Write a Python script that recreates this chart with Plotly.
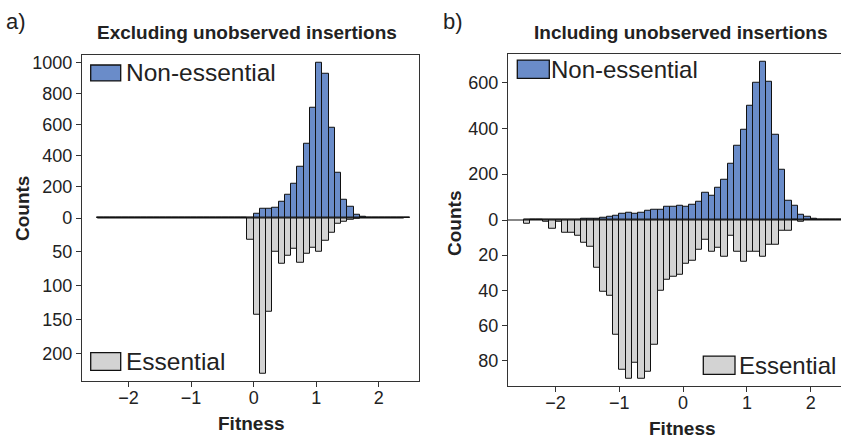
import plotly.graph_objects as go

# ---------------- data ----------------
bin_lower = [-2.5, -2.4, -2.3, -2.2, -2.1, -2.0, -1.9, -1.8, -1.7, -1.6,
             -1.5, -1.4, -1.3, -1.2, -1.1, -1.0, -0.9, -0.8, -0.7, -0.6,
             -0.5, -0.4, -0.3, -0.2, -0.1, 0.0, 0.1, 0.2, 0.3, 0.4,
             0.5, 0.6, 0.7, 0.8, 0.9, 1.0, 1.1, 1.2, 1.3, 1.4,
             1.5, 1.6, 1.7, 1.8, 1.9, 2.0, 2.1, 2.2, 2.3, 2.4]
bin_width = 0.1

# a) Excluding unobserved insertions
excl_nonessential = [0, 0, 0, 0, 0, 0, 0, 0, 0, 0,
                     0, 0, 0, 0, 0, 0, 0, 0, 0, 0,
                     0, 0, 0, 0, 4, 28, 58, 61, 68, 105,
                     147, 222, 328, 478, 710, 1000, 931, 580, 289, 120,
                     70, 18, 9, 4, 2, 1, 1, 0, 0, 0]
excl_essential = [0, 0, 0, 0, 0, 0, 0, 0, 0, 0,
                  0, 0, 0, 0, 0, 0, 0, 0, 0, 0,
                  0, 0, 0, 0, 32, 143, 229, 138, 49, 67,
                  55, 46, 66, 52, 44, 49, 33, 22, 8, 5,
                  3, 1, 0, 0, 0, 0, 0, 0, 0, 0]
excl_fitness_span = [-2.5, 2.4]

# b) Including unobserved insertions
incl_nonessential = [0, 0, 0, 0, 0, 0, 0, 1, 3, 4,
                     6, 7, 9, 13, 20, 28, 33, 26, 32, 41,
                     46, 43, 58, 59, 62, 58, 67, 81, 120, 107,
                     139, 175, 246, 322, 396, 499, 597, 691, 604, 370,
                     220, 86, 62, 22, 13, 4, 3, 2, 1, 1]
incl_essential = [2, 0, 0, 1, 5, 1, 7, 7, 9, 13,
                  15, 27, 41, 43, 65, 85, 90, 81, 90, 86,
                  71, 40, 34, 32, 31, 25, 23, 17, 11, 18,
                  16, 21, 9, 18, 24, 18, 18, 21, 14, 14,
                  6, 6, 0, 1, 0, 0, 0, 0, 0, 0]

x_ticks = [-2, -1, 0, 1, 2]
excl_top_ticks = [0, 200, 400, 600, 800, 1000]
excl_bottom_ticks = [50, 100, 150, 200]
incl_top_ticks = [0, 200, 400, 600]
incl_bottom_ticks = [20, 40, 60, 80]

# ---------------- style ----------------
W, H = 841, 438
BLUE = "#6a8cc9"
GRAY = "#d3d3d3"
EDGE = "#111111"
AX = "#333333"
TXT = "#222222"
FONT = "Liberation Sans, Arial, sans-serif"


def px(x):
    return x / W


def py(y):
    return 1 - y / H


centers = [b + bin_width / 2 for b in bin_lower]

fig = go.Figure()


def add_panel(nonessential, essential, xa, ya):
    top_max = 1.05 * max(nonessential)
    bot_max = 1.05 * max(essential)
    k = top_max / bot_max
    fig.add_trace(go.Bar(x=centers, y=nonessential, width=bin_width,
                         marker=dict(color=BLUE, line=dict(color=EDGE, width=1)),
                         xaxis=xa, yaxis=ya, showlegend=False, name="Non-essential"))
    fig.add_trace(go.Bar(x=centers, y=[-v * k for v in essential], width=bin_width,
                         marker=dict(color=GRAY, line=dict(color=EDGE, width=1)),
                         xaxis=xa, yaxis=ya, showlegend=False, name="Essential"))
    return top_max, k


top1, k1 = add_panel(excl_nonessential, excl_essential, "x", "y")
top2, k2 = add_panel(incl_nonessential, incl_essential, "x2", "y2")

axis_common = dict(showgrid=False, zeroline=False, showline=True, linecolor=AX,
                   linewidth=1.3, ticks="outside", ticklen=5, tickwidth=1.2,
                   tickcolor=AX, tickfont=dict(family=FONT, size=18, color=TXT))

fig.update_layout(
    width=W, height=H, margin=dict(l=0, r=0, t=0, b=0),
    paper_bgcolor="white", plot_bgcolor="white", barmode="overlay", bargap=0,
    xaxis=dict(domain=[px(82), px(419)], range=[-2.745, 2.645], anchor="y",
               tickvals=x_ticks, mirror=True, ticklabelstandoff=-5, **axis_common),
    yaxis=dict(domain=[py(381), py(53)], range=[-top1, top1], anchor="x",
               tickvals=excl_top_ticks + [-t * k1 for t in excl_bottom_ticks],
               ticktext=[str(t) for t in excl_top_ticks] + [str(t) for t in excl_bottom_ticks],
               mirror=True, **axis_common),
    xaxis2=dict(domain=[px(508), 1.0], range=[-2.745, 2.475], anchor="y2",
                tickvals=x_ticks, mirror=True, ticklabelstandoff=-5, **axis_common),
    yaxis2=dict(domain=[py(386), py(52)], range=[-top2, top2], anchor="x2",
                tickvals=incl_top_ticks + [-t * k2 for t in incl_bottom_ticks],
                ticktext=[str(t) for t in incl_top_ticks] + [str(t) for t in incl_bottom_ticks],
                mirror=False, **axis_common),
)

# zero lines
fig.add_shape(type="line", xref="x", yref="y", x0=excl_fitness_span[0],
              x1=excl_fitness_span[1], y0=0, y1=0, line=dict(color=EDGE, width=1.1))
fig.add_shape(type="line", xref="x2 domain", yref="y2", x0=0, x1=1, y0=0, y1=0,
              line=dict(color=EDGE, width=1.2))


def legend_item(x0, y0, x1, y1, color, label, tx, fs):
    fig.add_shape(type="rect", xref="paper", yref="paper",
                  x0=px(x0), x1=px(x1), y0=py(y1), y1=py(y0),
                  fillcolor=color, line=dict(color=EDGE, width=1.3))
    fig.add_annotation(xref="paper", yref="paper", x=px(tx), y=py((y0 + y1) / 2),
                       xanchor="left", yanchor="middle", showarrow=False, text=label,
                       font=dict(family=FONT, size=fs, color=TXT))


legend_item(90.7, 63.3, 120.7, 79.3, BLUE, "Non-essential", 124, 24.5)
legend_item(90.7, 352.3, 120.7, 370.0, GRAY, "Essential", 124, 24.5)
legend_item(517.3, 58.3, 549.3, 76.7, BLUE, "Non-essential", 549, 24)
legend_item(703.3, 355.7, 735.0, 374.0, GRAY, "Essential", 737, 24)


def text(x, y, s, size, bold=False, angle=0, anchor="center"):
    fig.add_annotation(xref="paper", yref="paper", x=px(x), y=py(y), text=(f"<b>{s}</b>" if bold else s),
                       showarrow=False, xanchor=anchor, yanchor="middle", textangle=angle,
                       font=dict(family=FONT, size=size, color=TXT))


text(4, 20, "a)", 22, anchor="left")
text(441, 20, "b)", 22, anchor="left")
text(247, 31, "Excluding unobserved insertions", 19, bold=True)
text(680, 31, "Including unobserved insertions", 19, bold=True)
text(22, 208, "Counts", 19, bold=True, angle=-90)
text(455, 222, "Counts", 19, bold=True, angle=-90)
text(252, 423, "Fitness", 19, bold=True)
text(682, 428, "Fitness", 19, bold=True)

fig.write_html("out.html")
